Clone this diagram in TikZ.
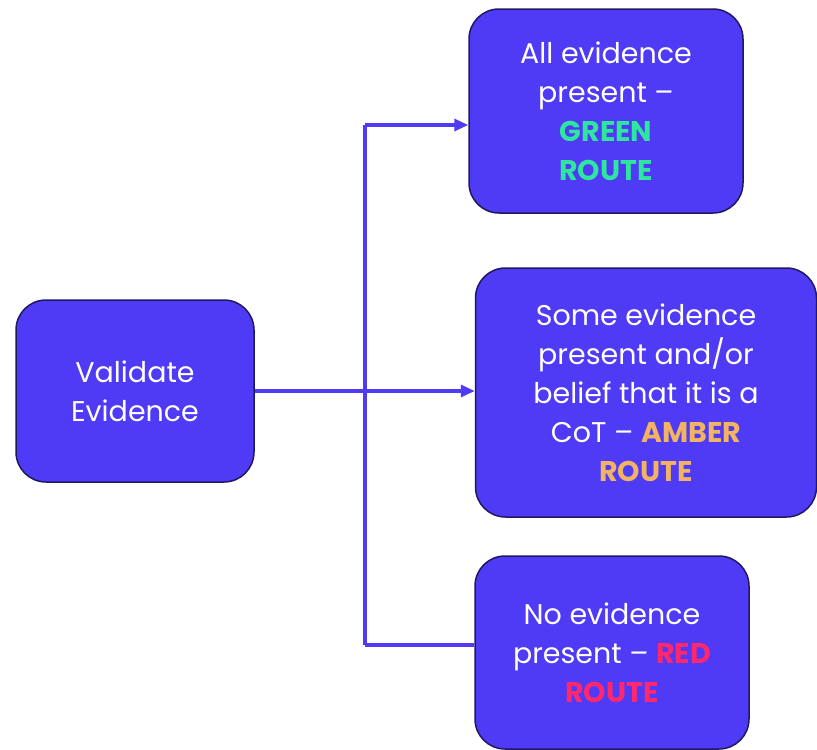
\documentclass[tikz,border=0pt]{standalone}
\usepackage{fontspec}
\setmainfont{Poppins}
\usetikzlibrary{arrows.meta}
\definecolor{boxfill}{RGB}{79,58,245}
\definecolor{boxline}{RGB}{32,24,96}
\definecolor{greenc}{RGB}{46,230,160}
\definecolor{amberc}{RGB}{242,180,100}
\definecolor{redc}{RGB}{255,40,110}
\tikzset{
  box/.style={draw=boxline, line width=1.5pt, fill=boxfill, rounded corners=30pt,
    text=white, align=center, inner sep=0pt,
    font=\fontsize{28.5}{39}\selectfont},
  conn/.style={draw=boxfill, line width=3.2pt},
  arr/.style={conn, -{Triangle[length=14pt,width=12pt]}},
}
\begin{document}
\begin{tikzpicture}[x=1pt,y=-1pt]
\useasboundingbox (0,0) rectangle (817,750);
\node[box, minimum width=238pt, minimum height=182pt] (v) at (135,391) {Validate\\Evidence};
\node[box, minimum width=274pt, minimum height=204pt] (g) at (606,111)
  {All evidence\\present --\\\textbf{\color{greenc}GREEN}\\\textbf{\color{greenc}ROUTE}};
\node[box, minimum width=341pt, minimum height=249pt] (a) at (646,392.5)
  {Some evidence\\present and/or\\belief that it is a\\CoT -- \textbf{\color{amberc}AMBER}\\\textbf{\color{amberc}ROUTE}};
\node[box, minimum width=274pt, minimum height=193pt] (r) at (612,652.5)
  {No evidence\\present -- \textbf{\color{redc}RED}\\\textbf{\color{redc}ROUTE}};
\coordinate (jt) at (365,125);
\coordinate (jb) at (365,645);
\draw[conn] (jt) -- (jb);
\draw[arr] (v.east) -- (v.east -| a.west);
\draw[arr] (jt) -- (jt -| g.west);
\draw[conn] (jb) -- (jb -| r.west);
\end{tikzpicture}
\end{document}
